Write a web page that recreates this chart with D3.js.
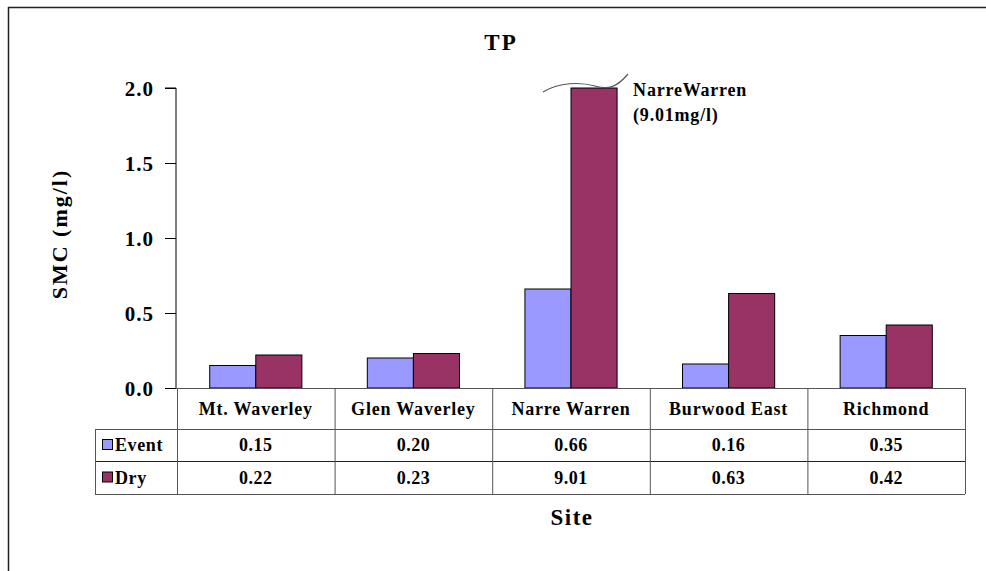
<!DOCTYPE html>
<html>
<head>
<meta charset="utf-8">
<script src="https://cdn.jsdelivr.net/npm/d3@7"></script>
<style>
  html, body { margin: 0; padding: 0; background: #fff; }
  svg { display: block; }
  text { font-family: "Liberation Serif", "Times New Roman", "Liberation Sans", sans-serif; font-weight: bold; fill: #000; }
</style>
</head>
<body>
<svg id="chart" width="986" height="571"></svg>
<script>
const categories = ["Mt. Waverley", "Glen Waverley", "Narre Warren", "Burwood East", "Richmond"];
const seriesNames = ["Event", "Dry"];
const eventValues = [0.15, 0.20, 0.66, 0.16, 0.35];
const dryValues = [0.22, 0.23, 9.01, 0.63, 0.42];
const yTicks = [0.0, 0.5, 1.0, 1.5, 2.0];
const colors = { Event: "#9999ff", Dry: "#993366" };
const title = "TP";
const yLabel = "SMC (mg/l)";
const xLabel = "Site";
const breakNote = ["NarreWarren", "(9.01mg/l)"];

const svg = d3.select("#chart");

// outer frame
svg.append("rect").attr("x", 8.5).attr("y", 7.5).attr("width", 1000).attr("height", 600)
  .attr("fill", "none").attr("stroke", "#222").attr("stroke-width", 1.5);

const pLeft = 177, pRight = 965, pTop = 88, pBase = 388;
const y = d3.scaleLinear().domain([0, 2]).range([pBase, pTop]).clamp(true);
const x0 = d3.scaleBand().domain(categories).range([pLeft, pRight]);
const x1 = d3.scaleBand().domain(seriesNames).range([0, x0.bandwidth()]).paddingOuter(0.71);

const seriesData = { Event: eventValues, Dry: dryValues };

// y axis
const yAxis = d3.axisLeft(y).tickValues(yTicks).tickFormat(d3.format(".1f")).tickSize(11).tickPadding(11);
const yg = svg.append("g").attr("transform", `translate(${pLeft - 1},0)`).call(yAxis);
yg.select(".domain").attr("stroke", "#000").attr("stroke-width", 1).attr("d", `M-11,${pTop}H0V${pBase}`);
yg.selectAll(".tick line").attr("stroke", "#000");
yg.selectAll(".tick text").style("font-size", "21px").style("letter-spacing", "1px").attr("dy", "0.36em").attr("fill", "#000");

// bars
categories.forEach((c, i) => {
  seriesNames.forEach(s => {
    const v = seriesData[s][i];
    svg.append("rect")
      .attr("x", x0(c) + x1(s))
      .attr("y", y(v))
      .attr("width", x1.bandwidth())
      .attr("height", pBase - y(v))
      .attr("fill", colors[s])
      .attr("stroke", "#000").attr("stroke-width", 1);
  });
});

// axis break line over Narre Warren dry bar
const nwDry = x0("Narre Warren") + x1("Dry");
const bw = x1.bandwidth();
svg.append("path")
  .attr("d", `M${nwDry - 28},${y(2) + 4} C${nwDry - 12},${y(2) - 6} ${nwDry + 10},${y(2) - 6} ${nwDry + 24},${y(2) - 2} S${nwDry + 46},${y(2) - 1} ${nwDry + 57},${y(2) - 14}`)
  .attr("fill", "none").attr("stroke", "#555").attr("stroke-width", 1.2);
svg.append("text").attr("x", nwDry + bw + 16).attr("y", y(2) + 8).style("font-size", "18px").style("letter-spacing", "0.8px").text(breakNote[0]);
svg.append("text").attr("x", nwDry + bw + 16).attr("y", y(2) + 33).style("font-size", "18px").style("letter-spacing", "0.8px").text(breakNote[1]);

// x axis line
svg.append("line").attr("x1", pLeft - 1).attr("x2", pRight).attr("y1", pBase + 0.5).attr("y2", pBase + 0.5).attr("stroke", "#555");

// data table
const rowTop = [pBase, 429, 461, 494];
const legLeft = 95;
const g = svg.append("g").attr("stroke", "#555").attr("stroke-width", 1);
g.append("line").attr("x1", legLeft).attr("x2", pRight).attr("y1", rowTop[1] + 0.5).attr("y2", rowTop[1] + 0.5);
g.append("line").attr("x1", legLeft).attr("x2", pRight).attr("y1", rowTop[2] + 0.5).attr("y2", rowTop[2] + 0.5).attr("stroke", "#222");
g.append("line").attr("x1", legLeft).attr("x2", pRight).attr("y1", rowTop[3] + 0.5).attr("y2", rowTop[3] + 0.5);
g.append("line").attr("x1", legLeft + 0.5).attr("x2", legLeft + 0.5).attr("y1", rowTop[1]).attr("y2", rowTop[3]);
categories.concat(["__end"]).forEach((c, i) => {
  const xx = c === "__end" ? pRight : x0(c);
  g.append("line").attr("x1", xx + 0.5).attr("x2", xx + 0.5).attr("y1", pBase).attr("y2", rowTop[3]);
});

categories.forEach(c => {
  svg.append("text").attr("x", x0(c) + x0.bandwidth() / 2).attr("y", (rowTop[0] + rowTop[1]) / 2 + 6)
    .attr("text-anchor", "middle").style("font-size", "18px").style("letter-spacing", "0.8px").text(c);
  seriesNames.forEach((s, j) => {
    const v = seriesData[s][categories.indexOf(c)];
    svg.append("text").attr("x", x0(c) + x0.bandwidth() / 2).attr("y", (rowTop[j + 1] + rowTop[j + 2]) / 2 + 6)
      .attr("text-anchor", "middle").style("font-size", "18px").style("letter-spacing", "0.5px").text(d3.format(".2f")(v));
  });
});
seriesNames.forEach((s, j) => {
  const cy = (rowTop[j + 1] + rowTop[j + 2]) / 2;
  svg.append("rect").attr("x", 102.5).attr("y", cy - 5.5).attr("width", 10).attr("height", 10)
    .attr("fill", colors[s]).attr("stroke", "#000").attr("stroke-width", 1);
  svg.append("text").attr("x", 115).attr("y", cy + 6).style("font-size", "18px").style("letter-spacing", "0.6px").text(s);
});

// titles
svg.append("text").attr("x", 501).attr("y", 50).attr("text-anchor", "middle").style("font-size", "23px").style("letter-spacing", "2px").text(title);
svg.append("text").attr("transform", `translate(67,234) rotate(-90)`).attr("text-anchor", "middle").style("font-size", "22px").style("letter-spacing", "2px").text(yLabel);
svg.append("text").attr("x", 572).attr("y", 525).attr("text-anchor", "middle").style("font-size", "23px").style("letter-spacing", "1.5px").text(xLabel);
</script>
</body>
</html>
